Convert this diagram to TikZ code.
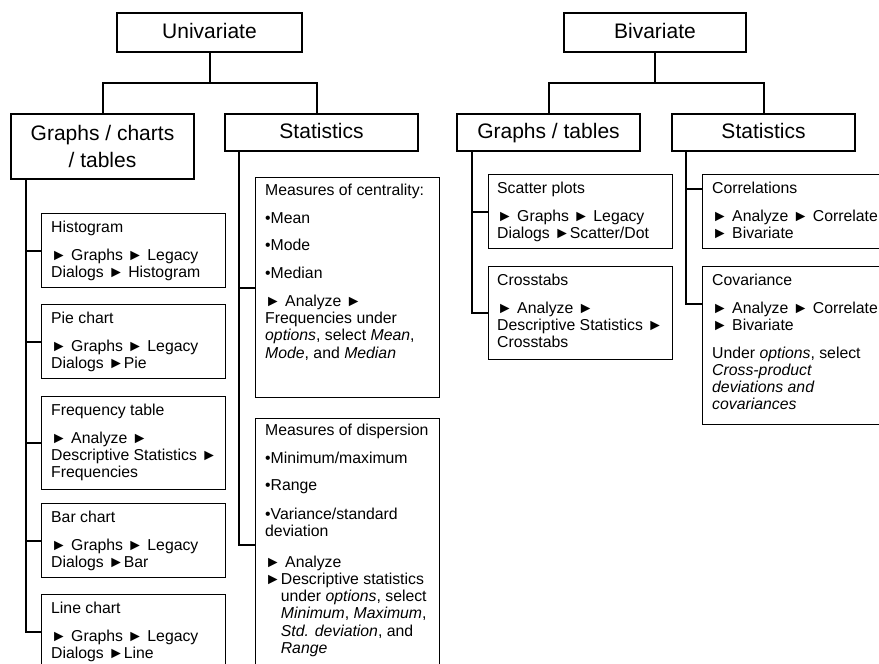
\documentclass[tikz,border=0pt]{standalone}
\usepackage{fontspec}
\setmainfont{Liberation Sans}
\begin{document}
\begin{tikzpicture}[x=1pt,y=-1pt,
  box/.style={draw, line width=1.4pt, inner sep=0pt, anchor=north west},
  hdr/.style={draw, line width=1.4pt, inner sep=0pt, align=center,
    font=\fontsize{21}{26.7}\selectfont},
  hdrone/.style={hdr, text height=15.5pt, text depth=3pt},
  txt/.style={anchor=north west, inner sep=0pt, align=left,
    font=\fontsize{15.8}{17.3}\selectfont},
  wire/.style={line width=2pt}]
\useasboundingbox (0,0) rectangle (879,664);
\clip (0,0) rectangle (879,664);

% ---- top level
\node[hdrone, minimum width=185pt, minimum height=39pt] (uni) at (209.5,32.5) {Univariate};
\node[hdrone, minimum width=182pt, minimum height=39pt] (biv) at (655,32.5) {Bivariate};

% ---- second level
\node[hdr, minimum width=183pt, minimum height=65pt] (gct) at (102.5,146.5) {Graphs / charts\\/ tables};
\node[hdrone, minimum width=193pt, minimum height=37pt] (ust) at (321.5,132.5) {Statistics};
\node[hdrone, minimum width=183pt, minimum height=37pt] (bgt) at (548.5,132.5) {Graphs / tables};
\node[hdrone, minimum width=183pt, minimum height=37pt] (bst) at (763.5,132.5) {Statistics};

% ---- leaf boxes
\node[box, minimum width=184pt, minimum height=74pt] (hist) at (41,213) {};
\node[box, minimum width=184pt, minimum height=74pt] (pie) at (41,304) {};
\node[box, minimum width=184pt, minimum height=93pt] (freq) at (41,396) {};
\node[box, minimum width=184pt, minimum height=74pt] (bar) at (41,503) {};
\node[box, minimum width=184pt, minimum height=74pt] (line) at (41,594) {};
\node[box, minimum width=184pt, minimum height=220pt] (cent) at (255,177) {};
\node[box, minimum width=184pt, minimum height=252pt] (disp) at (255,418) {};
\node[box, minimum width=184pt, minimum height=74pt] (scat) at (488,174) {};
\node[box, minimum width=184pt, minimum height=93pt] (cross) at (488,266) {};
\node[box, minimum width=200pt, minimum height=74pt] (corr) at (702,174) {};
\node[box, minimum width=200pt, minimum height=158pt] (cov) at (702,266) {};

% ---- texts of the leaf boxes
\node[txt] (hist-t) at ([shift={(10,7)}]hist.north west) {\strut Histogram\\[10.4pt]
  ► Graphs ► Legacy\\Dialogs ► Histogram};
\node[txt] (pie-t) at ([shift={(10,7)}]pie.north west) {\strut Pie chart\\[10.4pt]
  ► Graphs ► Legacy\\Dialogs ►Pie};
\node[txt] (freq-t) at ([shift={(10,7)}]freq.north west) {\strut Frequency table\\[10.4pt]
  ► Analyze ►\\Descriptive Statistics ►\\Frequencies};
\node[txt] (bar-t) at ([shift={(10,7)}]bar.north west) {\strut Bar chart\\[10.4pt]
  ► Graphs ► Legacy\\Dialogs ►Bar};
\node[txt] (line-t) at ([shift={(10,7)}]line.north west) {\strut Line chart\\[10.4pt]
  ► Graphs ► Legacy\\Dialogs ►Line};
\node[txt] (cent-t) at ([shift={(10,6)}]cent.north west) {\strut Measures of centrality:\\[10.4pt]
  •Mean\\[10.4pt]•Mode\\[10.4pt]•Median\\[10.4pt]
  ► Analyze ►\\Frequencies under\\\textit{options}, select \textit{Mean},\\
  \textit{Mode}, and \textit{Median}};
\node[txt] (disp-t) at ([shift={(10,5)}]disp.north west) {\strut Measures of dispersion\\[10.4pt]
  •Minimum/maximum\\[10.4pt]•Range\\[11pt]•Variance/standard\\deviation\\[13.4pt]
  ► Analyze\\►Descriptive statistics\\
  \phantom{►}under \textit{options}, select\\
  \phantom{►}\textit{Minimum}, \textit{Maximum},\\
  \phantom{►}\textit{Std. deviation}, and\\
  \phantom{►}\textit{Range}};
\node[txt] (scat-t) at ([shift={(9,7)}]scat.north west) {\strut Scatter plots\\[10.4pt]
  ► Graphs ► Legacy\\Dialogs ►Scatter/Dot};
\node[txt] (cross-t) at ([shift={(9,7)}]cross.north west) {\strut Crosstabs\\[10.4pt]
  ► Analyze ►\\Descriptive Statistics ►\\Crosstabs};
\node[txt] (corr-t) at ([shift={(10,7)}]corr.north west) {\strut Correlations\\[10.4pt]
  ► Analyze ► Correlate\\► Bivariate};
\node[txt] (cov-t) at ([shift={(10,7)}]cov.north west) {\strut Covariance\\[10.4pt]
  ► Analyze ► Correlate\\► Bivariate\\[10.4pt]
  Under \textit{options}, select\\\textit{Cross-product}\\\textit{deviations and}\\\textit{covariances}};

% ---- tree connectors
\draw[wire] (uni.south) -- ++(0,30) -| (gct.north);
\draw[wire] (uni.south) ++(0,30) -| ([xshift=-5pt]ust.north);
\draw[wire] (biv.south) -- ++(0,30) -| (bgt.north);
\draw[wire] (biv.south) ++(0,30) -| (bst.north);

% ---- spines with their branches
\coordinate (gsp) at ([xshift=16pt]gct.south west);
\draw[wire] (gsp) |- (line.west);
\foreach \b in {hist,pie,freq,bar} \draw[wire] (\b.west) -- (\b.west -| gsp);

\coordinate (usp) at ([xshift=15pt]ust.south west);
\draw[wire] (usp) |- (disp.west);
\draw[wire] (cent.west) -- (cent.west -| usp);

\coordinate (bsp) at ([xshift=16pt]bgt.south west);
\draw[wire] (bsp) |- (cross.west);
\draw[wire] (scat.west) -- (scat.west -| bsp);

\coordinate (ssp) at ([xshift=15pt]bst.south west);
\draw[wire] (ssp) |- ([yshift=-38pt]cov.north west);
\draw[wire] ([yshift=-15pt]corr.north west) -- ([yshift=-15pt]corr.north west -| ssp);
\end{tikzpicture}
\end{document}
